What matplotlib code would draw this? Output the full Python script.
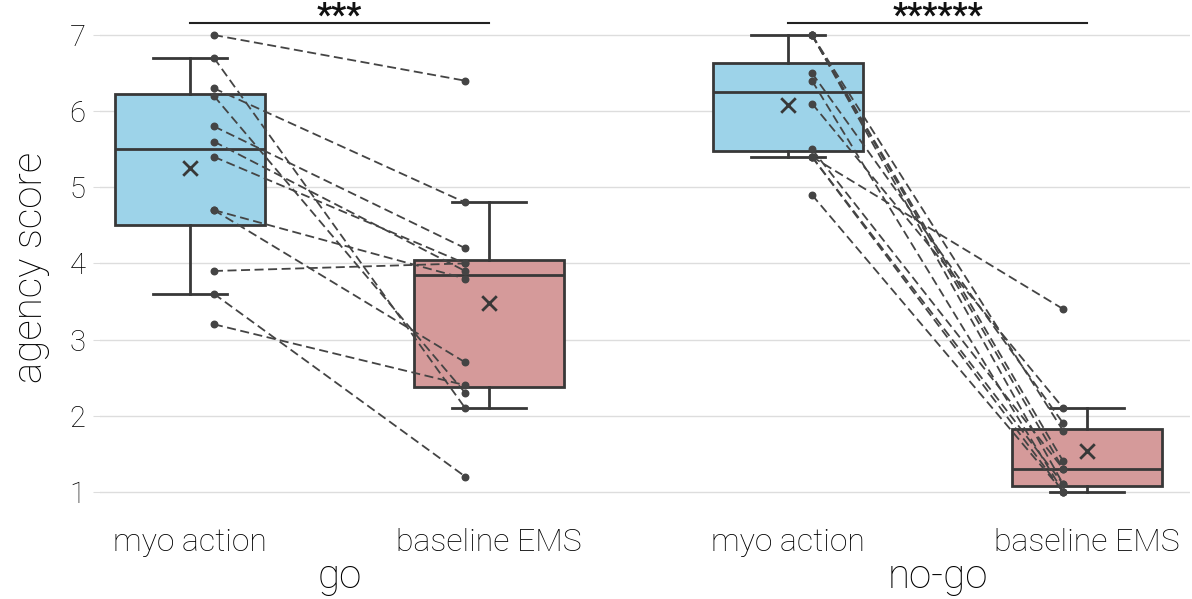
import numpy as np
import matplotlib.pyplot as plt

plt.rcParams['font.family'] = ['Roboto', 'DejaVu Sans']
plt.rcParams['font.weight'] = 'light'
plt.rcParams['axes.labelweight'] = 'light'

conditions = ['myo action', 'baseline EMS', 'myo action', 'baseline EMS']
groups = ['go', 'no-go']
stars = ['***', '******']

# paired ratings per participant
go_myo = [7.0, 6.7, 6.3, 6.2, 5.8, 5.6, 5.4, 4.7, 4.7, 3.9, 3.6, 3.2]
go_ems = [6.4, 2.1, 4.8, 2.3, 4.2, 3.9, 4.0, 3.8, 2.7, 4.0, 1.2, 2.4]
nogo_myo = [7.0, 7.0, 7.0, 7.0, 6.5, 6.4, 6.1, 5.5, 5.4, 5.4, 5.4, 4.9]
nogo_ems = [1.1, 1.3, 1.4, 1.8, 1.9, 1.0, 2.1, 1.3, 3.4, 1.1, 1.0, 1.0]

# box summaries as drawn
q1 = [4.50, 2.38, 5.47, 1.07]
med = [5.50, 3.85, 6.25, 1.30]
q3 = [6.22, 4.05, 6.63, 1.82]
whis_lo = [3.6, 2.1, 5.4, 1.0]
whis_hi = [6.7, 4.8, 7.0, 2.1]
means = [5.25, 3.48, 6.08, 1.53]

box_colors = ['#9dd3e9', '#d59a9a', '#9dd3e9', '#d59a9a']
edge = '#383838'
pos = np.arange(4)

fig = plt.figure(figsize=(11.92, 5.99), dpi=100)
ax = fig.add_axes([0.0839, 0.16, 0.9144, 0.826])

stats = []
for i in range(4):
    stats.append(dict(med=med[i], q1=q1[i], q3=q3[i], whislo=whis_lo[i],
                      whishi=whis_hi[i], fliers=[], mean=means[i]))
bp = ax.bxp(stats, positions=pos, widths=0.5, patch_artist=True, showfliers=False,
            boxprops=dict(linewidth=2, edgecolor=edge),
            medianprops=dict(color=edge, linewidth=2),
            whiskerprops=dict(color=edge, linewidth=2),
            capprops=dict(color=edge, linewidth=2), capwidths=0.25, zorder=2)
for patch, c in zip(bp['boxes'], box_colors):
    patch.set_facecolor(c)

ax.scatter(pos, means, marker='x', s=110, color=edge, linewidths=2, zorder=5)

# paired lines + points
off = 0.08
for g, (a, b) in enumerate([(go_myo, go_ems), (nogo_myo, nogo_ems)]):
    x0 = pos[2 * g] + off
    x1 = pos[2 * g + 1] - off
    for ya, yb in zip(a, b):
        ax.plot([x0, x1], [ya, yb], color='#444444', lw=1.3, ls=(0, (5, 2.5)), zorder=4)
    ax.scatter([x0] * len(a), a, s=22, color='#444444', zorder=6)
    ax.scatter([x1] * len(b), b, s=22, color='#444444', zorder=6)

# significance bars
for g in range(2):
    xa, xb = pos[2 * g], pos[2 * g + 1]
    ax.plot([xa, xb], [7.16, 7.16], color='#222222', lw=1.5, clip_on=False)
    ax.text((xa + xb) / 2, 7.12, stars[g], ha='center', va='baseline', fontsize=24,
            fontweight='bold', color='#111111', clip_on=False)

ax.set_xlim(-0.301, 3.344)
ax.set_ylim(0.85, 7.35)
ax.set_yticks(range(1, 8))
ax.set_xticks(pos)
ax.set_xticklabels(conditions, fontsize=23)
ax.tick_params(axis='y', labelsize=21, length=5, color='#dddddd', pad=5.5)
ax.tick_params(axis='x', length=0, pad=18)
ax.yaxis.grid(True, color='#dddddd', lw=1)
ax.set_axisbelow(True)
for s in ax.spines.values():
    s.set_visible(False)
ax.set_ylabel('agency score', fontsize=29, va='center', fontweight='light')
ax.yaxis.set_label_coords(-0.064, 0.477)

for g in range(2):
    ax.text((pos[2 * g] + pos[2 * g + 1]) / 2, -0.172, groups[g], transform=ax.get_xaxis_transform(),
            ha='center', va='baseline', fontsize=29)

fig.savefig('out.png', dpi=100)
